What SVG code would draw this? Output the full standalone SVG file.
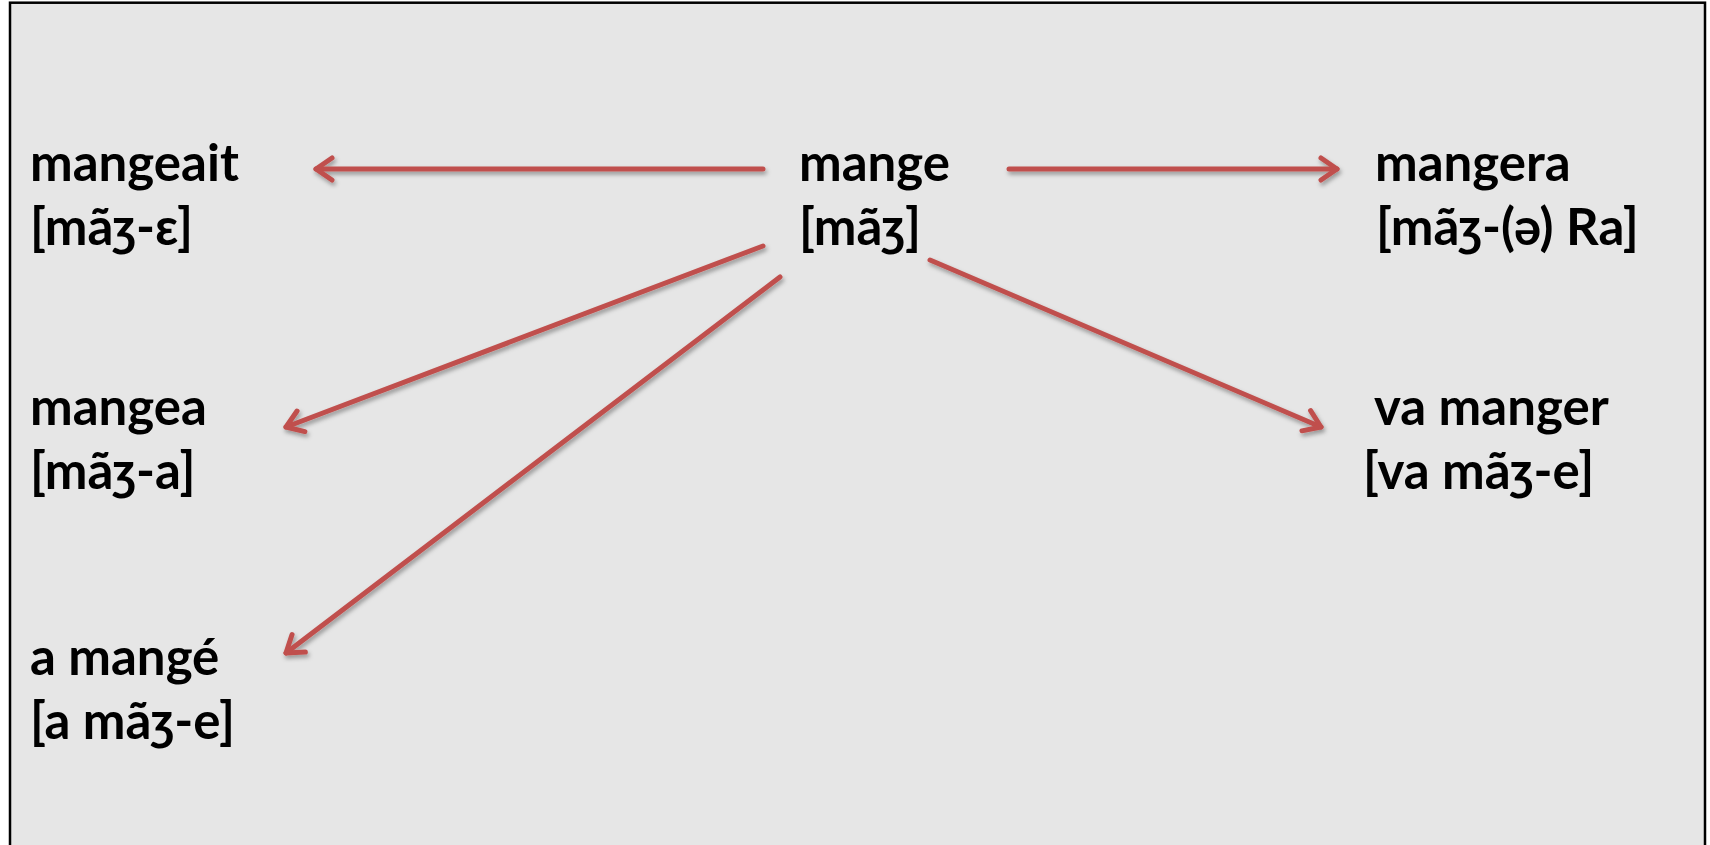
<svg xmlns="http://www.w3.org/2000/svg" width="1710" height="845" viewBox="0 0 1710 845">
<style>
.t{font-family:Lato,"Open Sans","Noto Sans","DejaVu Sans",sans-serif;font-weight:bold;font-size:51px;fill:#000}
.c{stroke:#c0504d;stroke-width:5;fill:none;stroke-linecap:round;marker-end:url(#ah)}
</style>
<defs>
<marker id="ah" markerUnits="userSpaceOnUse" viewBox="-24 -14 28 28" refX="0" refY="0" markerWidth="28" markerHeight="28" orient="auto">
<path d="M-16,-11 L0,0 L-16,11" fill="none" stroke="#c0504d" stroke-width="5" stroke-linecap="round" stroke-linejoin="round"/>
</marker>
<filter id="sh" x="-10%" y="-10%" width="120%" height="130%">
<feDropShadow dx="1.5" dy="3" stdDeviation="2" flood-color="#000" flood-opacity="0.35"/>
</filter>
</defs>
<rect x="0" y="0" width="1710" height="845" fill="#fff"/>
<rect x="10" y="2.7" width="1695" height="870" fill="#e6e6e6" stroke="#000" stroke-width="2.5"/>
<g id="connectors" filter="url(#sh)">
<line class="c" x1="763" y1="169" x2="316" y2="169"/>
<line class="c" x1="1009" y1="169" x2="1337" y2="169"/>
<line class="c" x1="763" y1="246" x2="286" y2="427"/>
<line class="c" x1="780" y1="277" x2="286" y2="653"/>
<line class="c" x1="930" y1="260" x2="1321" y2="427"/>
</g>
<g id="mange"><text class="t" x="799" y="181">mange</text><text class="t" x="799" y="245">[mãʒ]</text></g>
<g id="mangeait"><text class="t" x="30" y="181">mangeait</text><text class="t" x="30" y="245">[mãʒ-ɛ]</text></g>
<g id="mangera"><text class="t" x="1375" y="181">mangera</text><text class="t" x="1376" y="245">[mãʒ-(ə) Ra]</text></g>
<g id="mangea"><text class="t" x="30" y="425">mangea</text><text class="t" x="30" y="489">[mãʒ-a]</text></g>
<g id="va-manger"><text class="t" x="1374" y="425">va manger</text><text class="t" x="1363" y="489">[va mãʒ-e]</text></g>
<g id="a-mange"><text class="t" x="30" y="675">a mangé</text><text class="t" x="30" y="739">[a mãʒ-e]</text></g>
</svg>
